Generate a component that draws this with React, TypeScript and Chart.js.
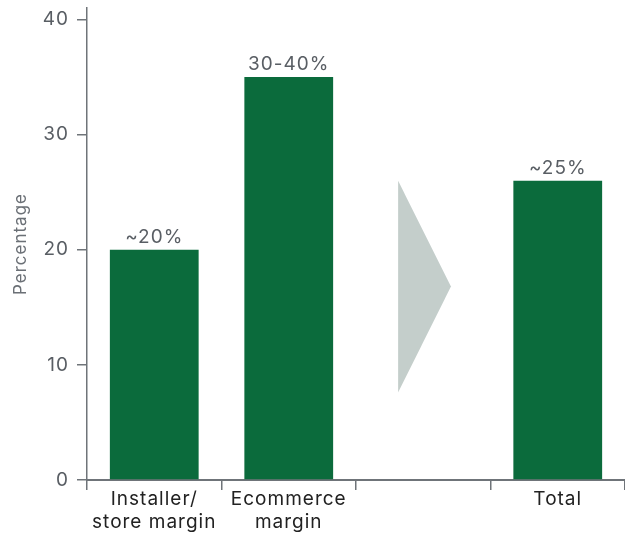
import React, { useEffect, useRef } from "react";
import { Chart, registerables } from "chart.js";

Chart.register(...registerables);

const categories: (string | string[])[] = [
  ["Installer/", "store margin"],
  ["Ecommerce", "margin"],
  "",
  "Total",
];
const values: (number | null)[] = [20, 35, null, 26];
const valueLabels = ["~20%", "30-40%", "", "~25%"];
const yTicks = [0, 10, 20, 30, 40];
const yMin = 0;
const yMax = 41;
const arrowX = [1.813, 2.206, 1.813];
const arrowY = [26, 16.8, 7.6];

const FONT = "Inter, 'Noto Sans', sans-serif";
const GRAY_TEXT = "#595e64";
const AXIS = "#6f7479";
const SPACING = "1px";

const spacingPlugin = {
  id: "letterSpacing",
  beforeLayout(chart: any) {
    (chart.ctx as any).letterSpacing = SPACING;
  },
  beforeDraw(chart: any) {
    (chart.ctx as any).letterSpacing = SPACING;
  },
};

const arrowPlugin = {
  id: "arrowShape",
  beforeDatasetsDraw(chart: any) {
    const { ctx, scales } = chart;
    const x = scales.x;
    const y = scales.y;
    ctx.save();
    ctx.fillStyle = "#c4cecb";
    ctx.beginPath();
    arrowX.forEach((v, i) => {
      const px = x.getPixelForValue(v);
      const py = y.getPixelForValue(arrowY[i]);
      if (i === 0) ctx.moveTo(px, py);
      else ctx.lineTo(px, py);
    });
    ctx.closePath();
    ctx.fill();
    ctx.restore();
  },
};

const valueLabelPlugin = {
  id: "valueLabels",
  afterDatasetsDraw(chart: any) {
    const { ctx } = chart;
    const meta = chart.getDatasetMeta(0);
    ctx.save();
    ctx.letterSpacing = SPACING;
    ctx.fillStyle = GRAY_TEXT;
    ctx.font = `19px ${FONT}`;
    ctx.textAlign = "center";
    ctx.textBaseline = "alphabetic";
    meta.data.forEach((el: any, i: number) => {
      if (values[i] == null || !valueLabels[i]) return;
      ctx.fillText(valueLabels[i], el.x, el.y - 7);
    });
    ctx.restore();
  },
};

export default function App() {
  const ref = useRef<HTMLCanvasElement | null>(null);

  useEffect(() => {
    document.body.style.margin = "0";
    if (!ref.current) return;
    const chart = new Chart(ref.current, {
      type: "bar",
      data: {
        labels: categories as any,
        datasets: [
          {
            data: values as any,
            backgroundColor: "#0b6b3c",
            barPercentage: 0.66,
            categoryPercentage: 1,
          },
        ],
      },
      options: {
        responsive: false,
        animation: false,
        devicePixelRatio: 1,
        layout: { padding: { top: 8, left: 0, right: -2, bottom: 0 } },
        plugins: {
          legend: { display: false },
          tooltip: { enabled: false },
        },
        scales: {
          x: {
            offset: true,
            grid: {
              offset: true,
              drawOnChartArea: false,
              drawTicks: true,
              tickLength: 10,
              color: AXIS,
              lineWidth: 1.5,
            },
            border: { display: true, color: AXIS, width: 2 },
            ticks: {
              color: "#222222",
              font: { family: FONT, size: 19, lineHeight: 1.22 },
              padding: -2,
              maxRotation: 0,
              autoSkip: false,
            },
            afterFit: (s: any) => {
              s.height = 58;
              s.paddingLeft = 0;
              s.paddingRight = 0;
            },
          },
          y: {
            min: yMin,
            max: yMax,
            afterBuildTicks: (axis: any) => {
              axis.ticks = yTicks.map((v) => ({ value: v }));
            },
            grid: {
              drawOnChartArea: false,
              drawTicks: true,
              tickLength: 10,
              color: AXIS,
              lineWidth: 1.5,
            },
            border: { display: true, color: AXIS, width: 1.5 },
            ticks: {
              color: GRAY_TEXT,
              font: { family: FONT, size: 19 },
              padding: 8,
            },
            title: {
              display: true,
              text: "Percentage",
              color: "#6b7076",
              font: { family: FONT, size: 17, lineHeight: 1.2 },
              padding: { top: 11, bottom: 0 },
            },
            afterFit: (s: any) => {
              s.width = 87;
              s.paddingTop = 0;
              s.paddingBottom = 0;
            },
          },
        },
      },
      plugins: [spacingPlugin, arrowPlugin, valueLabelPlugin],
    });
    return () => chart.destroy();
  }, []);

  return (
    <div style={{ width: 625, height: 538 }}>
      <canvas ref={ref} width={625} height={538} />
    </div>
  );
}
